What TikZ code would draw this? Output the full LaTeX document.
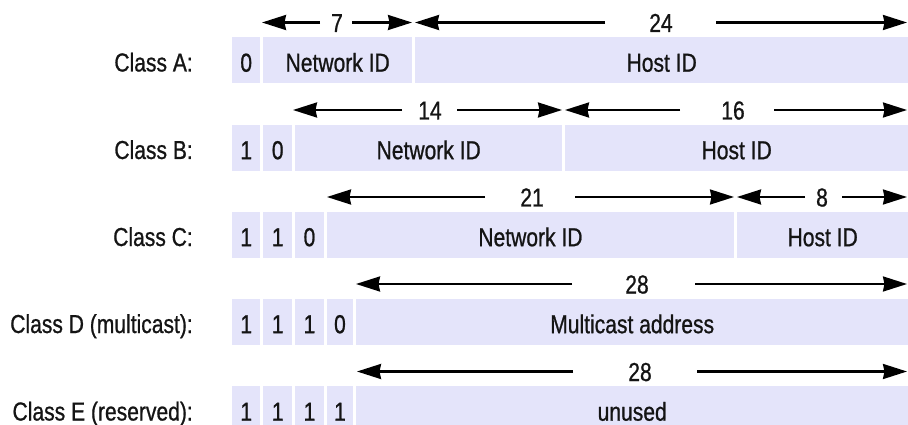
\documentclass[tikz,border=0pt]{standalone}
\usepackage{fontspec}
\setmainfont{Liberation Sans}[FakeStretch=0.81,FakeBold=0.8]
\usetikzlibrary{arrows.meta}
\definecolor{boxfill}{RGB}{228,228,250}
\definecolor{ink}{RGB}{20,20,20}
\newcommand\ipfield[5]{% name, x1, x2, top, text
  \node[field, minimum width={(#3)-(#2)}, anchor=north west] (#1) at (#2,#4) {#5};}
\newcommand\ipdim[8]{% name, tipL, gapL, gapR, tipR, y, labelx, text
  \coordinate (#1l) at (#2,#6);
  \coordinate (#1a) at (#3,#6);
  \coordinate (#1b) at (#4,#6);
  \coordinate (#1r) at (#5,#6);
  \node[dimlabel] (#1) at (#7,#6) {#8};
  \draw[dimline] (#1a) -- (#1l);
  \draw[dimline] (#1b) -- (#1r);}
\newcommand\iplabel[3]{% name, top, text
  \node[classlabel] (#1) at (193,#2+34.5) {#3};}
\begin{document}
\begin{tikzpicture}[x=1pt,y=-1pt,
  font=\fontsize{26}{30}\selectfont,
  field/.style={fill=boxfill, draw=none, inner sep=0pt, minimum height=46pt,
    text height=23pt, text depth=0pt, text=ink},
  dimlabel/.style={inner sep=0pt, text height=19pt, text depth=0pt, text=ink},
  dimline/.style={line width=2.2pt, draw=black,
    -{Stealth[length=24pt,width=15pt,inset=1.5pt]}},
  classlabel/.style={anchor=base east, inner sep=0pt, text=ink}]
\path[use as bounding box] (0,0) rectangle (908,425);
\clip (0,0) rectangle (908,425);
% Class A
\iplabel{la}{37}{Class A:}
\ipfield{a1}{232}{260}{37}{0}
\ipfield{anet}{263}{412}{37}{Network ID}
\ipfield{ahost}{415}{908}{37}{Host ID}
\ipdim{dA}{262}{320}{352}{412}{22.5}{337}{7}
\ipdim{dAh}{415}{605}{716}{907}{22.5}{661}{24}
% Class B
\iplabel{lb}{124.5}{Class B:}
\ipfield{b1}{232}{260}{124.5}{1}
\ipfield{b2}{263}{292}{124.5}{0}
\ipfield{bnet}{295}{562}{124.5}{Network ID}
\ipfield{bhost}{565}{908}{124.5}{Host ID}
\ipdim{dB}{293}{402}{457}{562}{110}{430}{14}
\ipdim{dBh}{565}{680}{774}{907}{110}{733}{16}
% Class C
\iplabel{lc}{211.5}{Class C:}
\ipfield{c1}{232}{260}{211.5}{1}
\ipfield{c2}{263}{292}{211.5}{1}
\ipfield{c3}{295}{323.5}{211.5}{0}
\ipfield{cnet}{326.5}{734}{211.5}{Network ID}
\ipfield{chost}{737}{908}{211.5}{Host ID}
\ipdim{dC}{327}{485}{575}{734}{197}{532}{21}
\ipdim{dCh}{737}{805}{842}{907}{197}{822}{8}
% Class D
\iplabel{ld}{298.5}{Class D (multicast):}
\ipfield{d1}{232}{260}{298.5}{1}
\ipfield{d2}{263}{292}{298.5}{1}
\ipfield{d3}{295}{323.5}{298.5}{1}
\ipfield{d4}{326.5}{353}{298.5}{0}
\ipfield{dmc}{356}{908}{298.5}{Multicast address}
\ipdim{dD}{356}{572}{695}{907}{284}{637}{28}
% Class E
\iplabel{le}{386}{Class E (reserved):}
\ipfield{e1}{232}{260}{386}{1}
\ipfield{e2}{263}{292}{386}{1}
\ipfield{e3}{295}{323.5}{386}{1}
\ipfield{e4}{326.5}{353}{386}{1}
\ipfield{eun}{356}{908}{386}{unused}
\ipdim{dE}{357}{573}{697}{907}{371.5}{640}{28}
\end{tikzpicture}
\end{document}
